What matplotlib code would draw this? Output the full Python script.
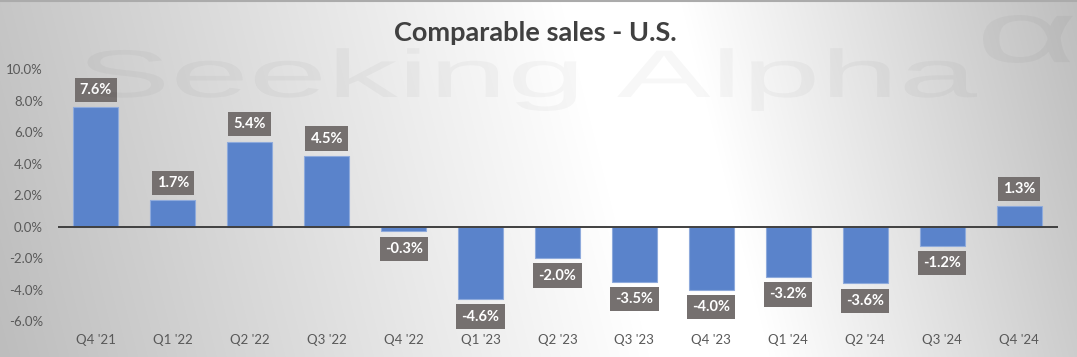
import numpy as np
import matplotlib.pyplot as plt
from matplotlib.textpath import TextPath
from matplotlib.patches import PathPatch
from matplotlib.font_manager import FontProperties
from matplotlib.transforms import Affine2D, IdentityTransform

# data
quarters = ["Q4 '21", "Q1 '22", "Q2 '22", "Q3 '22", "Q4 '22", "Q1 '23", "Q2 '23",
            "Q3 '23", "Q4 '23", "Q1 '24", "Q2 '24", "Q3 '24", "Q4 '24"]
comp_sales = [7.6, 1.7, 5.4, 4.5, -0.3, -4.6, -2.0, -3.5, -4.0, -3.2, -3.6, -1.2, 1.3]
y_ticks = [-6, -4, -2, 0, 2, 4, 6, 8, 10]

W, H = 1077, 357
plt.rcParams['font.family'] = ['Lato', 'DejaVu Sans']

fig = plt.figure(figsize=(W / 100, H / 100), dpi=100)

# ----------------------
# background gradient (diagonal white band)
# ----------------------
bg = fig.add_axes([0, 0, 1, 1], zorder=-5)
xx, yy = np.meshgrid(np.arange(W), np.arange(H))
t = xx - (620 + 0.25 * yy)
core = 60
v = np.where(t < 0,
             255 - 60 * np.clip((-t - core) / (650 - core), 0, None),
             255 - 65 * np.clip((t - core) / (457 - core), 0, None))
v = np.clip(v, 0, 255) / 255.0
bg.imshow(np.dstack([v, v, v]), aspect='auto', extent=(0, W, H, 0), interpolation='bilinear')
bg.plot([0, W], [0.5, 0.5], color='#ABABAB', lw=1.5)
bg.set_xlim(0, W)
bg.set_ylim(H, 0)
bg.axis('off')

# watermark, stretched like the logo
fp = FontProperties(family='Liberation Sans')
wm = TextPath((0, 0), "Seeking Alpha", size=1, prop=fp)
ext = wm.get_extents()
sx = (977 - 83) / ext.width
sy = 35 / 0.519
tr = Affine2D().translate(-ext.x0, 0).scale(sx, sy).translate(83, H - 97)
fig.patches.append(PathPatch(wm, transform=tr + IdentityTransform(), fc='black',
                             ec='none', alpha=0.03, figure=fig))
al = TextPath((0, 0), "\u03b1", size=1, prop=fp)
aext = al.get_extents()
tr2 = Affine2D().translate(-aext.x0, -aext.y0).scale(90 / aext.width, 48 / aext.height).translate(983, H - 63)
fig.patches.append(PathPatch(al, transform=tr2 + IdentityTransform(), fc='black',
                             ec='none', alpha=0.03, figure=fig))

# ----------------------
# bar chart
# ----------------------
ax = fig.add_axes([57.5 / W, 1 - 321.2 / H, 1000 / W, (321.2 - 69.3) / H])
ax.patch.set_alpha(0)
x = np.arange(len(quarters))
ax.bar(x, comp_sales, width=0.585, color='#5A83CB', edgecolor='#8EAADC', linewidth=0.8, zorder=2)
ax.axhline(0, color='#404040', lw=1.4, zorder=3)

for xi, val in zip(x, comp_sales):
    off = 12.5 if val >= 0 else -12.5
    ax.annotate(f"{val:.1f}%", (xi, val), xytext=(0, off), textcoords='offset points',
                ha='center', va='center', color='white', fontsize=10.5, fontweight='bold',
                bbox=dict(boxstyle='square,pad=0.35', fc='#75706F', ec='none'),
                zorder=4, annotation_clip=False)

ax.set_xlim(-0.5, len(quarters) - 0.5)
ax.set_ylim(-6, 10)
ax.set_yticks(y_ticks)
ax.set_yticklabels([f"{v:.1f}%" for v in y_ticks])
ax.set_xticks(x)
ax.set_xticklabels(quarters)
ax.tick_params(axis='both', length=0, labelsize=9.5, labelcolor='#595959')
ax.tick_params(axis='y', pad=10.5)
ax.tick_params(axis='x', pad=9)
for s in ax.spines.values():
    s.set_visible(False)

fig.text(535 / W, 1 - 33 / H, "Comparable sales - U.S.", ha='center', va='center',
         fontsize=19.5, fontweight='bold', color='#404040')

fig.savefig("out.png", dpi=100)
